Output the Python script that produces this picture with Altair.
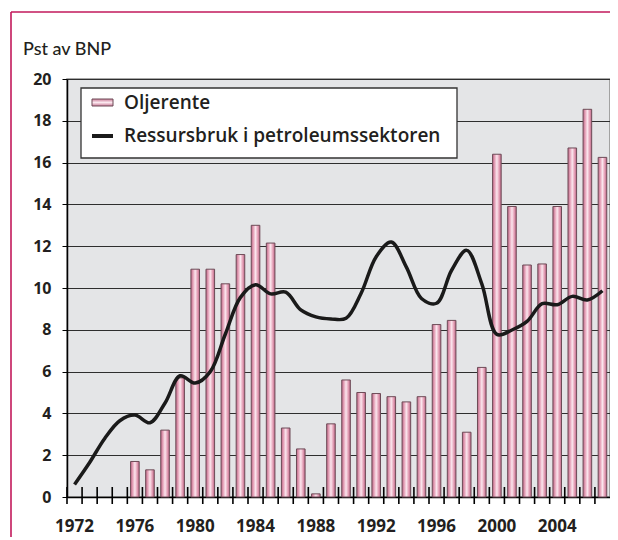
import altair as alt
import pandas as pd

years = [1972, 1973, 1974, 1975, 1976, 1977, 1978, 1979, 1980, 1981, 1982, 1983,
         1984, 1985, 1986, 1987, 1988, 1989, 1990, 1991, 1992, 1993, 1994, 1995,
         1996, 1997, 1998, 1999, 2000, 2001, 2002, 2003, 2004, 2005, 2006, 2007]
oljerente = [None, None, None, None, 1.7, 1.3, 3.2, 5.7, 10.9, 10.9, 10.2, 11.6,
             13.0, 12.15, 3.3, 2.3, 0.15, 3.5, 5.6, 5.0, 4.95, 4.8, 4.55, 4.8,
             8.25, 8.45, 3.1, 6.2, 16.4, 13.9, 11.1, 11.15, 13.9, 16.7, 18.55, 16.25]
ressursbruk = [0.6, 1.65, 2.8, 3.65, 3.92, 3.55, 4.5, 5.8, 5.45, 6.0, 7.8, 9.55,
               10.15, 9.72, 9.8, 8.95, 8.62, 8.52, 8.55, 9.75, 11.5, 12.2, 11.0, 9.5,
               9.27, 10.85, 11.8, 10.2, 7.78, 7.99, 8.4, 9.25, 9.2, 9.6, 9.43, 9.87]
x_labels = [1972, 1976, 1980, 1984, 1988, 1992, 1996, 2000, 2004]
y_ticks = [0, 2, 4, 6, 8, 10, 12, 14, 16, 18, 20]
legend_labels = ["Oljerente", "Ressursbruk i petroleumssektoren"]
y_title = "Pst av BNP"

df = pd.DataFrame({"year": years, "olje": oljerente, "ressurs": ressursbruk})
one = pd.DataFrame({"k": [0]})

FONT = "Open Sans"
TXT = "#231f20"
FRAME = "#c2185b"

bar_grad = alt.Gradient(
    gradient="linear", x1=0, x2=1, y1=0, y2=0,
    stops=[alt.GradientStop(offset=0, color="#bb6585"),
           alt.GradientStop(offset=0.25, color="#e5a2b8"),
           alt.GradientStop(offset=0.5, color="#fbe6ee"),
           alt.GradientStop(offset=0.75, color="#e5a2b8"),
           alt.GradientStop(offset=1, color="#bb6585")])
leg_grad = alt.Gradient(
    gradient="linear", x1=0, x2=0, y1=0, y2=1,
    stops=[alt.GradientStop(offset=0, color="#c97a96"),
           alt.GradientStop(offset=0.5, color="#fbe8ef"),
           alt.GradientStop(offset=1, color="#c97a96")])

xscale = alt.Scale(paddingInner=0, paddingOuter=0)
xenc = alt.X("year:O", scale=xscale,
             axis=alt.Axis(values=x_labels, labelAngle=0, ticks=False, tickSize=0,
                           title=None, grid=False, domainColor="#000000",
                           domainWidth=1.5, labelPadding=21, labelFontSize=17,
                           labelFontWeight="bold", labelFont=FONT, labelColor=TXT))
yscale = alt.Scale(domain=[0, 20], nice=False)
yaxis = alt.Axis(values=y_ticks, title=None, grid=True, gridColor="#2e2e2e",
                 gridWidth=1, tickSize=5, tickColor="#000000", domainColor="#000000",
                 domainWidth=1.5, labelPadding=11, labelFontSize=16,
                 labelFontWeight="bold", labelFont=FONT, labelColor=TXT)

frame_top = alt.Chart(one).mark_rule(color=FRAME, strokeWidth=1.6).encode(
    x=alt.value(-56), x2=alt.value(543), y=alt.value(-67))
frame_left = alt.Chart(one).mark_rule(color=FRAME, strokeWidth=1.6).encode(
    x=alt.value(-56), y=alt.value(-67), y2=alt.value(560))

bars = alt.Chart(df).mark_bar(color=bar_grad, stroke="#6d4b57", strokeWidth=1,
                              width=alt.RelativeBandSize(0.57)).encode(
    x=xenc,
    y=alt.Y("olje:Q", scale=yscale, axis=yaxis),
)

line = alt.Chart(df).mark_line(color="#1a1a1a", strokeWidth=3.5,
                               interpolate="catmull-rom").encode(
    x=alt.X("year:O", scale=xscale),
    y=alt.Y("ressurs:Q", scale=yscale),
)

ticks = alt.Chart(df).mark_rule(color="#000000", strokeWidth=1.6).encode(
    x=alt.X("year:O", scale=xscale, bandPosition=0),
    y=alt.value(408), y2=alt.value(425),
)

legend_box = alt.Chart(one).mark_rect(fill="#ffffff", stroke="#333333", strokeWidth=1.3).encode(
    x=alt.value(14), x2=alt.value(390), y=alt.value(9), y2=alt.value(79))
sym1 = alt.Chart(one).mark_rect(color=leg_grad, stroke="#6d4b57", strokeWidth=1).encode(
    x=alt.value(25), x2=alt.value(46), y=alt.value(20), y2=alt.value(27))
txt1 = alt.Chart(one).mark_text(align="left", baseline="middle", font=FONT,
                                fontSize=19, fontWeight=600, color=TXT).encode(
    x=alt.value(57), y=alt.value(24), text=alt.value(legend_labels[0]))
sym2 = alt.Chart(one).mark_rule(color="#1a1a1a", strokeWidth=4).encode(
    x=alt.value(25), x2=alt.value(46), y=alt.value(57))
txt2 = alt.Chart(one).mark_text(align="left", baseline="middle", font=FONT,
                                fontSize=19, fontWeight=600, color=TXT).encode(
    x=alt.value(57), y=alt.value(57), text=alt.value(legend_labels[1]))
title_txt = alt.Chart(one).mark_text(align="left", baseline="alphabetic", font="Lato",
                                     fontSize=18, fontWeight=500, color=TXT).encode(
    x=alt.value(-44), y=alt.value(-24), text=alt.value(y_title))

chart = alt.layer(frame_top, frame_left, bars, line, ticks, legend_box, sym1, txt1,
                  sym2, txt2, title_txt).properties(
    width=543, height=418,
    padding={"left": 59, "top": 71, "right": 0, "bottom": 40},
    autosize=alt.AutoSizeParams(type="none"),
    background="#ffffff",
).configure_view(fill="#e4e5e7", stroke="#8c8c8c", strokeWidth=1.5)

chart.save("out.html", embed_options={"renderer": "svg", "actions": False})
